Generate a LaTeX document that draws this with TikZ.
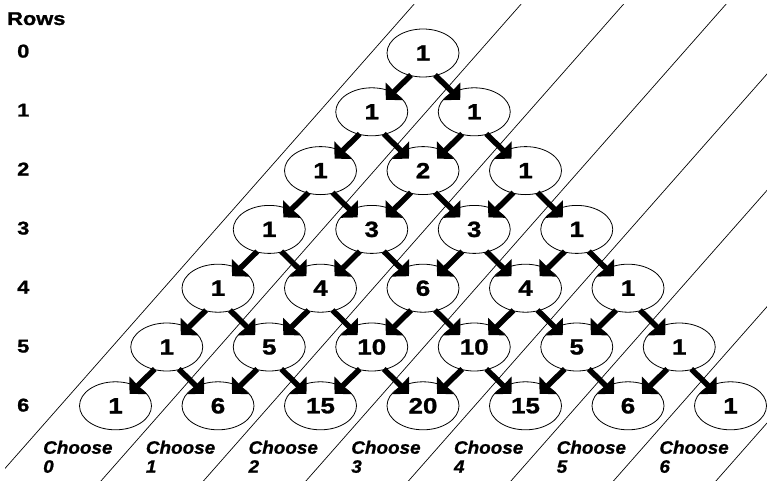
\documentclass[tikz,border=0pt]{standalone}
\usepackage{fontspec}
\setmainfont{Liberation Sans}
\newfontfamily\widefont{Liberation Sans}[FakeStretch=1.18,FakeBold=1.2]
\newfontfamily\choosefont{Liberation Sans}[FakeStretch=1.05,FakeBold=1]
\usetikzlibrary{arrows.meta,shapes.geometric}
\begin{document}
\begin{tikzpicture}[x=1pt,y=-1pt,
  cell/.style={draw, ellipse, fill=white, line width=0.8pt,
    minimum width=72pt, minimum height=48pt, inner sep=0pt,
    font=\widefont\bfseries\fontsize{22}{22}\selectfont},
  arr/.style={line width=5.5pt, -{Triangle[length=12pt,width=24pt]}},
  sepline/.style={line width=0.7pt},
  rowlabel/.style={anchor=base west, inner sep=0pt,
    font=\widefont\bfseries\fontsize{18.5}{18.5}\selectfont},
  choose/.style={anchor=north west, align=left, inner sep=0pt,
    font=\choosefont\bfseries\itshape\fontsize{18}{19}\selectfont}]
\useasboundingbox (0,0) rectangle (767,481);

% diagonal separators between the "choose k" bands
\begin{scope}
  \clip (5,5) rectangle (767,481);
  \foreach \c in {60,167,269.5,372,474.5,577,679.5,782}
    \draw[sepline] ({\c-194/1.135},600) -- ({\c+506/1.135},-100);
\end{scope}

% Pascal's triangle entries
\foreach \r/\vals in {0/{1}, 1/{1,1}, 2/{1,2,1}, 3/{1,3,3,1},
                      4/{1,4,6,4,1}, 5/{1,5,10,10,5,1},
                      6/{1,6,15,20,15,6,1}} {
  \foreach \v [count=\k from 0] in \vals
    \node[cell] (n-\r-\k) at ({423+(\k-\r/2)*102.5},{53+\r*58.8}) {\v};
}

% arrows from each entry to the two entries below it
\foreach \r in {0,...,5} {
  \foreach \k in {0,...,\r} {
    \pgfmathtruncatemacro\rr{\r+1}
    \pgfmathtruncatemacro\kk{\k+1}
    \draw[arr] ([shift={(-12,22)}]n-\r-\k.center) -- ([shift={(14,-12)}]n-\rr-\k.center);
    \draw[arr] ([shift={(12,22)}]n-\r-\k.center) -- ([shift={(-14,-12)}]n-\rr-\kk.center);
  }
}

% row numbers
\node[rowlabel] (rows) at (7,25) {Rows};
\foreach \r in {0,...,6}
  \node[rowlabel] (row-\r) at (17,{57.5+\r*59}) {\r};

% band labels
\foreach \k in {0,...,6}
  \node[choose] (ch-\k) at ({43+\k*102.7},440.5) {Choose\\\k};
\end{tikzpicture}
\end{document}
